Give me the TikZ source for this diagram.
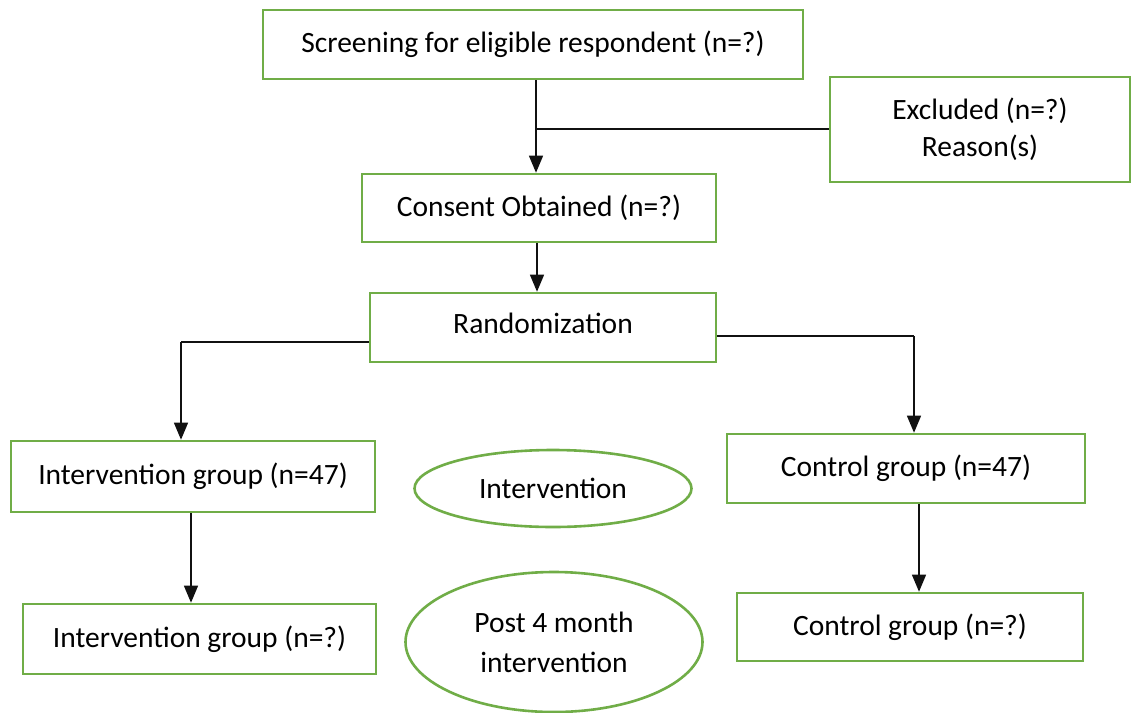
\documentclass[tikz,border=0pt]{standalone}
\usepackage{fontspec}
\setmainfont{Carlito}
\usepackage{xcolor}
\usepackage{tikz}
\usetikzlibrary{arrows.meta,shapes.geometric}
\definecolor{frame}{HTML}{70AD47}
\definecolor{wire}{HTML}{111111}
\tikzset{
  box/.style={draw=frame, line width=2.6pt, fill=white, inner sep=0pt,
    align=center, font=\fontsize{29.5}{37}\selectfont},
  oval/.style={ellipse, draw=frame, line width=2.6pt, fill=white, inner sep=0pt,
    align=center, font=\fontsize{29.5}{40}\selectfont},
  link/.style={draw=wire, line width=1.3pt},
  arr/.style={link, -{Triangle[length=17pt,width=14pt]}}
}
\begin{document}
\begin{tikzpicture}[x=1pt,y=-1pt]
  \useasboundingbox (0,0) rectangle (1131,712);

  % boxes of the flow
  \node[box, minimum width=540pt, minimum height=69pt] (screen) at (533,44.5) {Screening for eligible respondent (n=?)};
  \node[box, minimum width=300pt, minimum height=105pt] (excl) at (980,129.5) {Excluded (n=?)\\Reason(s)};
  \node[box, minimum width=354pt, minimum height=68pt] (consent) at (539,208) {Consent Obtained (n=?)};
  \node[box, minimum width=346pt, minimum height=69pt] (rand) at (543,327.5) {\raisebox{8pt}{Randomization}};
  \node[box, minimum width=364pt, minimum height=71pt] (intA) at (193,476.5) {Intervention group (n=47)};
  \node[box, minimum width=358pt, minimum height=69pt] (ctlA) at (906,468.5) {Control group (n=47)};
  \node[box, minimum width=353pt, minimum height=70pt] (intB) at (199.5,639) {Intervention group (n=?)};
  \node[box, minimum width=346pt, minimum height=68pt] (ctlB) at (910,627) {Control group (n=?)};

  % ellipses in the middle
  \node[oval, minimum width=277pt, minimum height=77pt] (iv) at (553,488.5) {Intervention};
  \node[oval, minimum width=297pt, minimum height=140pt] (post) at (554,642) {Post 4 month\\intervention};

  % junctions
  \coordinate (split) at (536,129);
  \coordinate (lt) at (181,342);
  \coordinate (rt) at (914,336);

  \draw[arr] (screen.south -| split) -- (consent.north -| split);
  \draw[link] (split) -- (excl.west |- split);
  \draw[arr] (consent.south -| 537,0) -- (rand.north -| 537,0);
  \draw[link] (rand.west |- lt) -- (lt);
  \draw[arr] (lt) -- (intA.north -| lt);
  \draw[link] (rand.east |- rt) -- (rt);
  \draw[arr] (rt) -- (ctlA.north -| rt);
  \draw[arr] (intA.south -| 191,0) -- (intB.north -| 191,0);
  \draw[arr] (ctlA.south -| 919,0) -- (ctlB.north -| 919,0);
\end{tikzpicture}
\end{document}
